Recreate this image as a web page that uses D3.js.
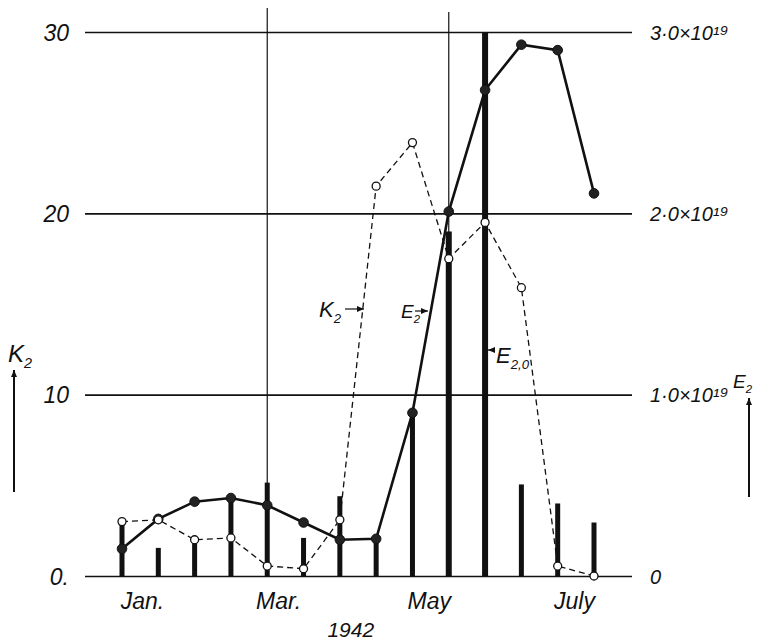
<!DOCTYPE html>
<html>
<head>
<meta charset="utf-8">
<script src="https://cdn.jsdelivr.net/npm/d3@7"></script>
<style>
  body { margin: 0; background: #fff; }
  svg { display: block; }
  text { font-family: "Liberation Sans", "DejaVu Sans", sans-serif; font-style: italic; fill: #111; }
  .axis .domain { display: none; }
  .axis line { stroke: #111; }
</style>
</head>
<body>
<svg width="764" height="643"></svg>
<script>
// half-monthly sampling points, 1942
var periods = [0, 1, 2, 3, 4, 5, 6, 7, 8, 9, 10, 11, 12, 13];

// K2 (dashed, open circles), left axis
var kValues = [3.0, 3.1, 2.0, 2.1, 0.55, 0.4, 3.1, 21.5, 23.9, 17.5, 19.5, 15.9, 0.55, 0];

// E2 (solid, filled circles), right axis, in units of 1e19
var eValues = [0.15, 0.315, 0.41, 0.43, 0.39, 0.295, 0.20, 0.205, 0.90, 2.01, 2.68, 2.93, 2.90, 2.11];

// E2,0 (bars), right axis, in units of 1e19
var eBars = [0.29, 0.155, 0.20, 0.43, 0.515, 0.21, 0.44, 0.20, 0.90, 1.90, 3.0, 0.505, 0.40, 0.295];

var leftTicks = [0, 10, 20, 30];
var leftLabels = ["0.", "10", "20", "30"];
var rightTicks = [0, 1, 2, 3];
var rightLabels = ["0", "1·0×10¹⁹", "2·0×10¹⁹", "3·0×10¹⁹"];
var months = ["Jan.", "Mar.", "May", "July"];
var monthPos = [0.55, 4.3, 8.45, 12.45];
var monthLines = [4, 9];

var x = d3.scaleLinear().domain([0, 13]).range([122, 594]);
var yL = d3.scaleLinear().domain([0, 30]).range([576, 32]);
var yR = d3.scaleLinear().domain([0, 3]).range([576, 32]);

var svg = d3.select("svg");
var gridLeft = 85, gridRight = 632;

// vertical month lines
svg.selectAll(".mline")
    .data(monthLines)
    .enter().append("line")
    .attr("class", "mline")
    .attr("x1", function(d) { return x(d); })
    .attr("x2", function(d) { return x(d); })
    .attr("y1", function(d, i) { return i === 0 ? 8 : 12; })
    .attr("y2", yL(0))
    .style("stroke", "#111")
    .style("stroke-width", 1.2);

// bars
svg.selectAll(".bar")
    .data(eBars)
    .enter().append("rect")
    .attr("class", "bar")
    .attr("x", function(d, i) { return x(periods[i]) - (d > 1.5 ? 3 : 2.5); })
    .attr("width", function(d) { return d > 1.5 ? 6 : 5; })
    .attr("y", function(d) { return yR(d); })
    .attr("height", function(d) { return yR(0) - yR(d); })
    .style("fill", "#111");

// horizontal gridlines
svg.append("g")
    .attr("class", "axis grid")
    .attr("transform", "translate(" + gridLeft + ",0)")
    .call(d3.axisRight(yL).tickValues(leftTicks).tickSize(gridRight - gridLeft).tickFormat(""))
    .selectAll("line")
    .style("stroke-width", 1.6);

// left axis labels
svg.append("g")
    .attr("class", "axis")
    .attr("transform", "translate(72,0)")
    .call(d3.axisLeft(yL).tickValues(leftTicks).tickSize(0)
        .tickFormat(function(d, i) { return leftLabels[i]; }))
    .selectAll("text")
    .style("font-size", "23px")
    .attr("dy", "0.35em");

// right axis labels
svg.append("g")
    .attr("class", "axis")
    .attr("transform", "translate(650,0)")
    .call(d3.axisRight(yR).tickValues(rightTicks).tickSize(0)
        .tickFormat(function(d, i) { return rightLabels[i]; }))
    .selectAll("text")
    .style("font-size", "20px")
    .attr("x", 0)
    .attr("dy", "0.35em");

// month axis
svg.append("g")
    .attr("class", "axis")
    .attr("transform", "translate(0,590)")
    .call(d3.axisBottom(x).tickValues(monthPos).tickSize(0)
        .tickFormat(function(d, i) { return months[i]; }))
    .selectAll("text")
    .style("font-size", "23px")
    .attr("dy", "0.71em");

svg.append("text")
    .attr("x", x(6.3))
    .attr("y", 637)
    .attr("text-anchor", "middle")
    .style("font-size", "21px")
    .text("1942");

// K2 dashed line
var kLine = d3.line()
    .x(function(d, i) { return x(periods[i]); })
    .y(function(d) { return yL(d); });

svg.append("path")
    .attr("d", kLine(kValues))
    .style("fill", "none")
    .style("stroke", "#111")
    .style("stroke-width", 1.3)
    .style("stroke-dasharray", "6,4");

// E solid line
var eLine = d3.line()
    .x(function(d, i) { return x(periods[i]); })
    .y(function(d) { return yR(d); });

svg.append("path")
    .attr("d", eLine(eValues))
    .style("fill", "none")
    .style("stroke", "#111")
    .style("stroke-width", 2.6);

svg.selectAll(".edot")
    .data(eValues)
    .enter().append("circle")
    .attr("class", "edot")
    .attr("cx", function(d, i) { return x(periods[i]); })
    .attr("cy", function(d) { return yR(d); })
    .attr("r", 4.8)
    .style("fill", "#222")
    .style("stroke", "#111")
    .style("stroke-width", 1);

svg.selectAll(".kdot")
    .data(kValues)
    .enter().append("circle")
    .attr("class", "kdot")
    .attr("cx", function(d, i) { return x(periods[i]); })
    .attr("cy", function(d) { return yL(d); })
    .attr("r", 4)
    .style("fill", "#fff")
    .style("stroke", "#111")
    .style("stroke-width", 1.3);

// axis titles with arrows
function arrow(x1, y1, x2, y2, w) {
    svg.append("line")
        .attr("x1", x1).attr("y1", y1).attr("x2", x2).attr("y2", y2)
        .style("stroke", "#111").style("stroke-width", w);
    var ang = Math.atan2(y2 - y1, x2 - x1);
    var L = 7, s = 3;
    var p = [
        [x2, y2],
        [x2 - L * Math.cos(ang) + s * Math.sin(ang), y2 - L * Math.sin(ang) - s * Math.cos(ang)],
        [x2 - L * Math.cos(ang) - s * Math.sin(ang), y2 - L * Math.sin(ang) + s * Math.cos(ang)]
    ];
    svg.append("path")
        .attr("d", "M" + p.join("L") + "Z")
        .style("fill", "#111");
}

function label(tx, ty, main, sub, size) {
    var t = svg.append("text").attr("x", tx).attr("y", ty).style("font-size", size + "px");
    t.append("tspan").text(main);
    t.append("tspan").attr("dy", size * 0.25).style("font-size", (size * 0.6) + "px").text(sub);
    return t;
}

label(8, 362, "K", "2", 24);
arrow(14, 492, 14, 370, 2);

label(733, 388, "E", "2", 19);
arrow(749, 497, 749, 398, 2);

// in-plot annotations
label(319, 317, "K", "2", 22);
arrow(345, 309, 364, 309, 1.2);

label(401, 318, "E", "2", 19);
arrow(415, 311, 428, 311, 1.2);

arrow(495, 350, 488, 350, 1.2);
label(496, 363, "E", "2,0", 22);
</script>
</body>
</html>
